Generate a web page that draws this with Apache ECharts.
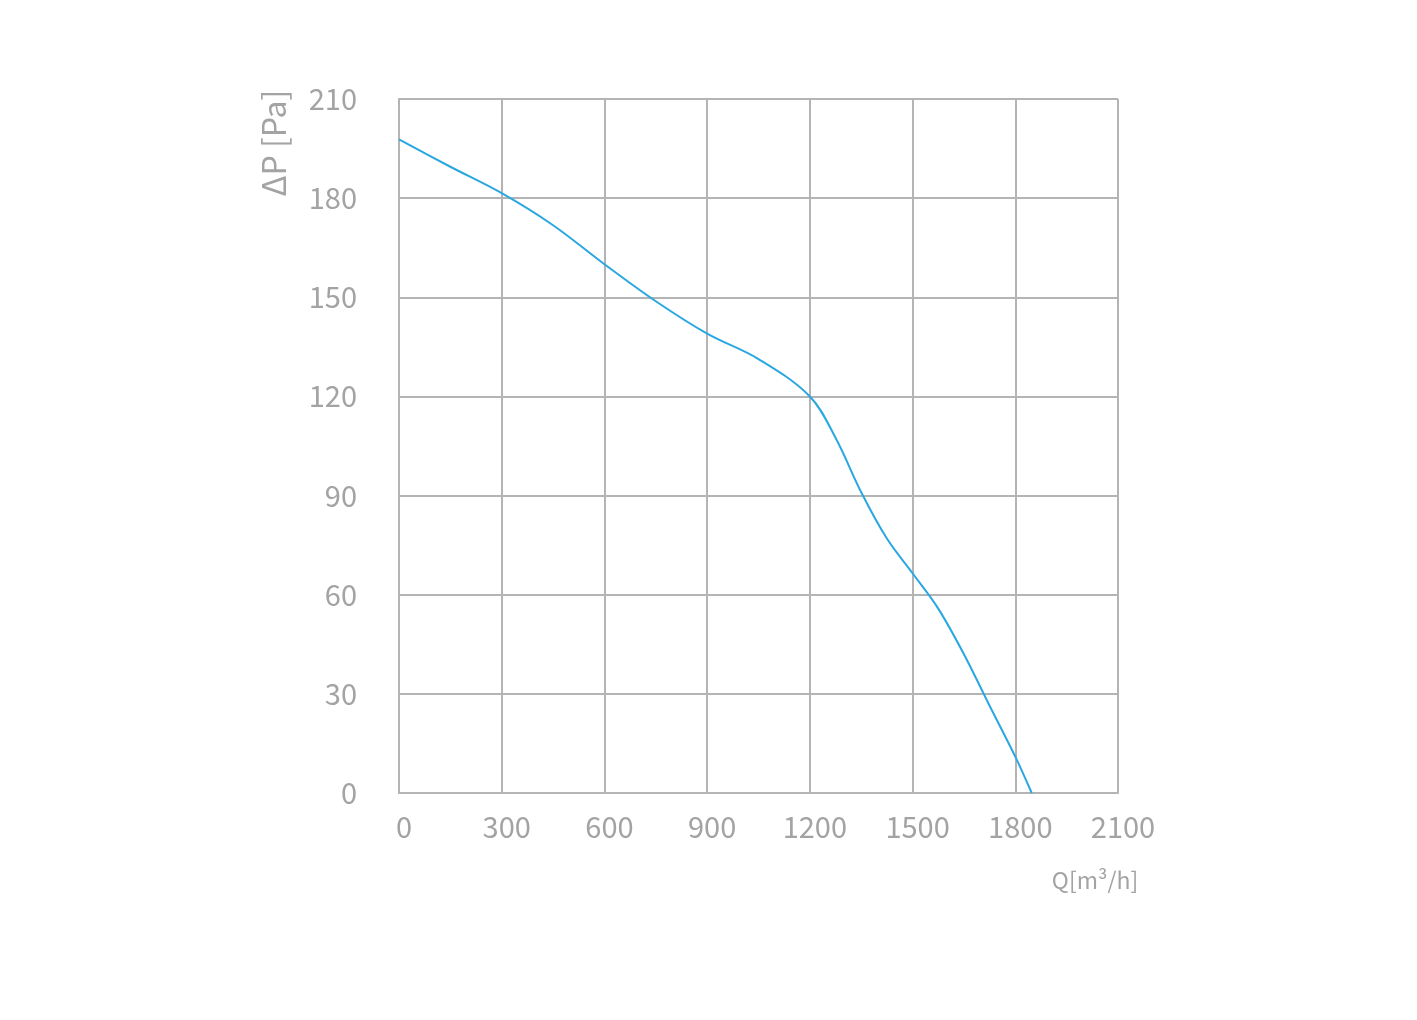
<!DOCTYPE html>
<html>
<head>
<meta charset="utf-8">
<script src="https://cdn.jsdelivr.net/npm/echarts@6/dist/echarts.min.js"></script>
<style>html,body{margin:0;padding:0;background:#fff;}#c{width:1417px;height:1020px;}</style>
</head>
<body>
<div id="c"></div>
<script>
const flowQ = [0, 150, 300, 450, 600, 750, 900, 1050, 1200, 1275, 1350, 1425, 1500, 1575, 1650, 1725, 1800, 1848];
const pressureP = [197.8, 189.5, 181.5, 171.8, 160, 148.8, 139, 131.3, 120, 107.5, 91, 77, 66.5, 55.8, 42, 26.4, 11, 0];
const xTicks = [0, 300, 600, 900, 1200, 1500, 1800, 2100];
const yTicks = [0, 30, 60, 90, 120, 150, 180, 210];
const yTitle = 'ΔP [Pa]';
const xTitle = 'Q[m³/h]';

const chart = echarts.init(document.getElementById('c'));
const gridColor = '#b4b4b4';
const labelColor = '#a3a3a3';
chart.setOption({
  backgroundColor: '#fff',
  animation: false,
  grid: { left: 399, top: 99, right: 299, bottom: 227, containLabel: false },
  xAxis: {
    type: 'value', min: xTicks[0], max: xTicks[xTicks.length - 1], interval: 300,
    axisLine: { show: true, lineStyle: { color: gridColor, width: 2 } },
    axisTick: { show: false },
    splitLine: { show: true, lineStyle: { color: gridColor, width: 2 } },
    axisLabel: { color: labelColor, fontSize: 29, margin: 19, fontFamily: 'Noto Sans CJK SC',
      formatter: v => String(v), padding: [0, 0, 0, 10] }
  },
  yAxis: {
    type: 'value', min: yTicks[0], max: yTicks[yTicks.length - 1], interval: 30,
    axisLine: { show: true, lineStyle: { color: gridColor, width: 2 } },
    axisTick: { show: false },
    splitLine: { show: true, lineStyle: { color: gridColor, width: 2 } },
    axisLabel: { color: labelColor, fontSize: 29, margin: 42, fontFamily: 'Noto Sans CJK SC' }
  },
  graphic: [
    { type: 'text', x: 274, y: 143, rotation: Math.PI / 2,
      style: { text: yTitle, fill: labelColor, fontSize: 32, fontFamily: 'Noto Sans CJK SC', align: 'center', verticalAlign: 'middle' } },
    { type: 'text', x: 1095, y: 880,
      style: { text: xTitle, fill: labelColor, fontSize: 23, fontFamily: 'Noto Sans CJK SC', align: 'center', verticalAlign: 'middle' } }
  ],
  series: [{
    type: 'line',
    data: flowQ.map((q, i) => [q, pressureP[i]]),
    smooth: 0.35,
    showSymbol: false,
    lineStyle: { color: '#2aa7e1', width: 2 },
    clip: false
  }]
});
</script>
</body>
</html>
